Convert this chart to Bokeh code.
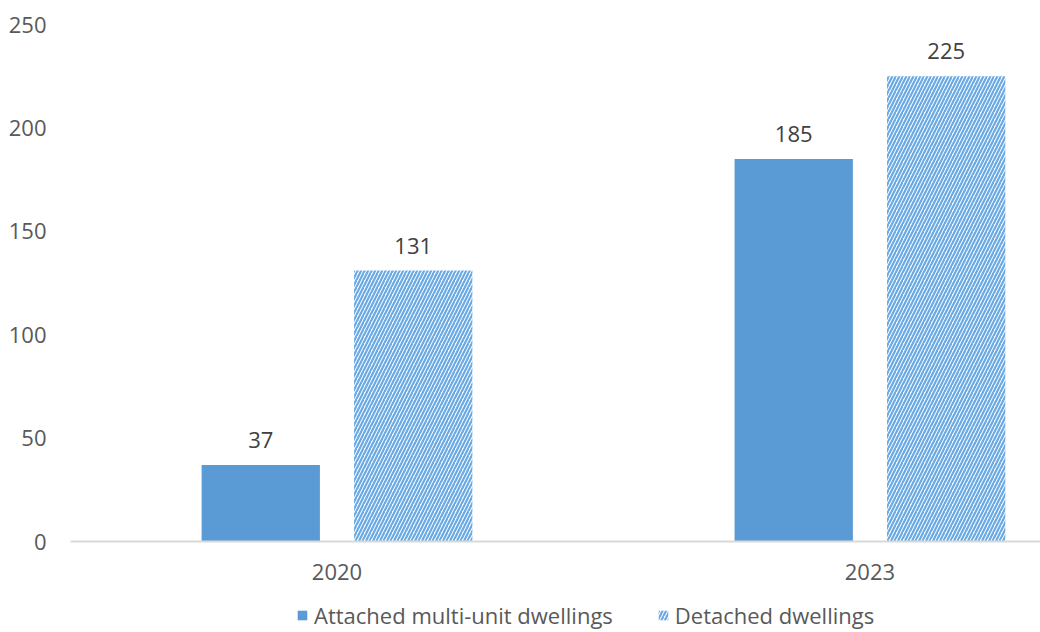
from bokeh.plotting import figure
from bokeh.layouts import column
from bokeh.models import Range1d, FixedTicker, Legend, LegendItem, ColumnDataSource
from bokeh.core.properties import value
from bokeh.embed import file_html
from bokeh.resources import INLINE

years = ["2020", "2023"]
attached = [37, 185]
detached = [131, 225]
series_names = ["Attached multi-unit dwellings", "Detached dwellings"]
y_ticks = [0, 50, 100, 150, 200, 250]

FONT = "Open Sans"
BLUE = "#5b9bd5"
HATCH = "#6aaae4"
FS = "22px"

pos = [i + 0.5 for i in range(len(years))]
off = 0.143
bw = 0.222

p = figure(width=1040, height=596, output_backend="svg", toolbar_location=None,
           x_range=Range1d(0, 1.82), y_range=Range1d(0, 250),
           min_border_left=70, min_border_right=0, min_border_top=24,
           min_border_bottom=55)
p.outline_line_color = None
p.grid.visible = False

src_a = ColumnDataSource(dict(x=[x - off for x in pos], top=attached,
                              lab=[str(v) for v in attached]))
src_d = ColumnDataSource(dict(x=[x + off for x in pos], top=detached,
                              lab=[str(v) for v in detached]))

bar_a = dict(fill_color=BLUE, line_color=None)
bar_d = dict(fill_color="white", line_color=None, hatch_pattern="/",
             hatch_color=HATCH, hatch_scale=7, hatch_weight=2.2)

p.vbar(x="x", top="top", width=bw, source=src_a, **bar_a)
p.vbar(x="x", top="top", width=bw, source=src_d, **bar_d)

for s in (src_a, src_d):
    p.text(x="x", y="top", text="lab", source=s, text_align="center",
           text_baseline="middle", y_offset=-25, text_font=value(FONT),
           text_font_size=FS, text_color="#404040")

p.yaxis.ticker = FixedTicker(ticks=y_ticks)
p.yaxis.axis_line_color = None
p.yaxis.major_tick_line_color = None
p.yaxis.minor_tick_line_color = None
p.yaxis.major_label_standoff = 18
p.yaxis.major_label_text_font = FONT
p.yaxis.major_label_text_font_size = FS
p.yaxis.major_label_text_color = "#595959"

p.xaxis.ticker = FixedTicker(ticks=pos)
p.xaxis.major_label_overrides = {pos[i]: years[i] for i in range(len(years))}
p.xaxis.axis_line_color = "#d9d9d9"
p.xaxis.axis_line_width = 2
p.xaxis.major_tick_line_color = None
p.xaxis.minor_tick_line_color = None
p.xaxis.major_label_standoff = 16
p.xaxis.major_label_text_font = FONT
p.xaxis.major_label_text_font_size = FS
p.xaxis.major_label_text_color = "#595959"

# legend strip below the chart (same data, kept out of view)
lg = figure(width=1040, height=36, output_backend="svg", toolbar_location=None,
            x_range=Range1d(100, 101), y_range=Range1d(-100, -99),
            x_axis_location=None, y_axis_location=None,
            min_border_left=0, min_border_right=0, min_border_top=0,
            min_border_bottom=0)
lg.outline_line_color = None
lg.grid.visible = False
la = lg.vbar(x="x", top="top", width=bw, source=src_a, **bar_a)
ld = lg.vbar(x="x", top="top", width=bw, source=src_d, **bar_d)

legend = Legend(items=[LegendItem(label=series_names[0], renderers=[la]),
                       LegendItem(label=series_names[1], renderers=[ld])],
                orientation="horizontal", location=(226, 2),
                glyph_width=12, glyph_height=12, label_standoff=6, spacing=44,
                label_text_font=FONT, label_text_font_size=FS,
                label_text_color="#595959", border_line_color=None,
                background_fill_alpha=0, padding=0, margin=0)
lg.add_layout(legend, "center")

out = column(p, lg, spacing=0)
open("out.html", "w").write(file_html(out, INLINE))
